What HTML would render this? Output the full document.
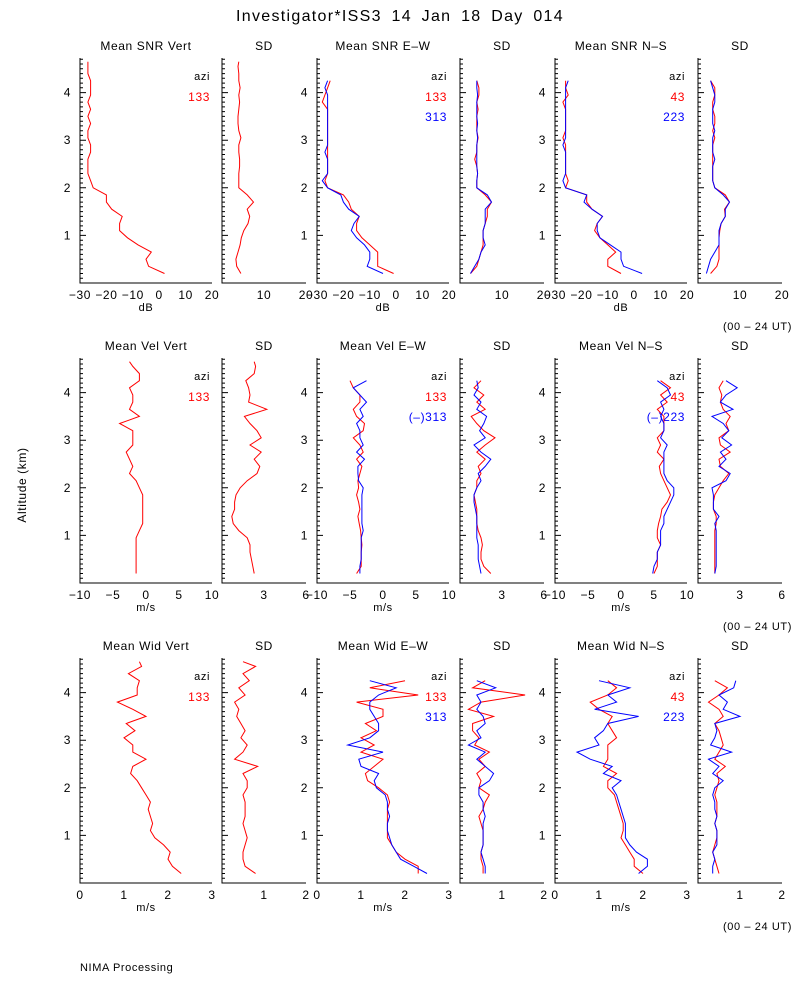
<!DOCTYPE html>
<html><head><meta charset="utf-8"><style>
body{margin:0;background:#fff}
svg{display:block;font-family:"Liberation Sans",sans-serif;font-size:12px;letter-spacing:0.6px}
</style></head><body>
<svg id="c" width="800" height="1000" viewBox="0 0 800 1000">
<rect width="800" height="1000" fill="#fff"/>
<text x="400" y="21" text-anchor="middle" font-size="16" style="letter-spacing:1.3px;word-spacing:4px">Investigator*ISS3   14 Jan 18 Day 014</text>
<text transform="translate(26,485) rotate(-90)" text-anchor="middle">Altitude (km)</text>
<text x="80" y="971" font-size="11">NIMA Processing</text>
</svg>
<script>
const hV=[0.2,0.35,0.5,0.65,0.8,0.95,1.1,1.25,1.4,1.55,1.7,1.85,2.0,2.15,2.3,2.45,2.6,2.75,2.9,3.05,3.2,3.35,3.5,3.65,3.8,3.95,4.1,4.25,4.4,4.55,4.65];
const hO=[0.2,0.35,0.5,0.65,0.8,0.95,1.1,1.25,1.4,1.55,1.7,1.85,2.0,2.15,2.3,2.45,2.6,2.75,2.9,3.05,3.2,3.35,3.5,3.65,3.8,3.95,4.1,4.25];
const snrV=[2,-4,-5,-3,-8,-12,-15,-15,-14,-18,-20,-20,-25,-26,-27,-27,-27,-26,-26,-27,-27,-26,-27,-26,-27,-26,-26,-26,-27,-27,-27];
const snrVsd=[4.5,3.5,3.3,3.8,4.3,4.6,5.2,6.2,6.6,6,7.5,6,4,4,4,4.2,4.2,4,4,4.5,4,3.8,3.8,4,4.2,4,4.3,4,4,3.8,4];
const snrEWr=[-1,-7,-7,-7,-10,-13,-15,-15,-14,-17,-18,-20,-26,-27,-26,-26,-26,-26,-26,-26,-26,-26,-26,-26,-28,-27,-26,-25];
const snrEWb=[-5,-11,-10,-10,-12,-15,-17,-16,-14,-18,-20,-21,-26,-28,-26,-26,-26,-27,-26,-26,-26,-26,-26,-26,-26,-26,-27,-26];
const snrEWsdr=[2.5,4,4.5,5,5.5,5.5,5.5,6,6.5,6.5,7.5,6,4,4,4.2,4,3.5,4,4,4.3,4,4,4,4.3,4,4.5,4.5,4];
const snrEWsdb=[2.5,3.5,4.5,5,6,5.5,5.5,6,6,6,7.5,6.5,4,4,4.2,4,4,4,4,4.2,4,4.2,4,4,4,4.2,4,4];
const snrNSr=[-5,-10,-10,-7,-10,-13,-15,-14,-12,-16,-18,-18,-26,-25,-26,-26,-26,-26,-26,-27,-26,-26,-26,-26,-27,-25,-26,-26];
const snrNSb=[3,-4,-5,-5,-9,-13,-14,-14,-12,-16,-19,-18,-26,-27,-26,-26,-26,-26,-27,-26,-26,-26,-26,-26,-26,-26,-26,-25];
const snrNSsdr=[3,4.5,5,5,5,5,5.2,5.5,6.5,6.3,7.5,6.5,4,3.5,3.5,3.5,3.5,3.5,3.5,4,3.5,4,4,3.5,3.5,4,4,3];
const snrNSsdb=[2,2.5,3,4,5,5,5,5.5,6.5,6.5,7.5,6,4,3.5,3.5,3.5,4,3.5,3.5,3.5,4,3.5,3.5,3.5,4,4,3.5,3];
const velV=[-1.5,-1.5,-1.5,-1.5,-1.5,-1.5,-1,-0.5,-0.5,-0.5,-0.5,-0.5,-1,-1.5,-2.5,-2,-2.5,-3,-2,-2,-2,-4,-1,-2.5,-2,-2,-2.5,-1,-1,-2,-2.5];
const velVsd=[2.3,2.2,2.1,2,2,1.8,1.2,0.8,0.7,0.9,0.9,1,1.3,1.8,2.5,2.7,2.3,2.8,2,2.8,2.5,2,1.6,3.2,1.9,2,1.9,1.7,2.3,2.4,2.3];
const velEWr=[-4,-3.3,-3.3,-3.3,-3.2,-3.3,-3.4,-3.6,-3.8,-3.5,-3.7,-4,-3.7,-3.8,-3.5,-3.2,-4,-3,-3.5,-4.5,-3,-2.8,-4,-4.5,-3.5,-3.5,-4.5,-5];
const velEWb=[-3.5,-3.5,-3.3,-3.3,-3.3,-3.3,-3,-3.2,-3.2,-3.2,-3.2,-3.2,-3,-3.7,-3.8,-3.8,-2.8,-4,-3,-3.5,-3.5,-4,-3,-3.5,-2.5,-3.5,-4.5,-2.5];
const velEWsdr=[2.2,1.7,1.5,1.5,1.6,1.5,1.3,1.2,1.2,1.2,1.1,1.0,1.2,1.2,1.5,1.3,1.8,1.2,1.8,2.5,1.7,1.2,0.8,1.8,1.2,1.7,1.0,1.5];
const velEWsdb=[1.5,1.4,1.3,1.3,1.3,1.2,1.2,1.2,1.2,1.1,1.0,1.0,1.2,1.5,1.3,1.8,2.2,1.5,1.0,1.8,1.4,1.7,1.9,1.2,1.5,1.0,1.3,1.2];
const velNSr=[5,5.5,5.5,5.5,6,5.5,5.5,5.7,6,6.2,7,7.5,7,6.5,6,5.8,6.5,5.5,6,5.5,6.5,6.5,6.5,5.5,7,6,7.5,6];
const velNSb=[4.8,5,5.5,5.5,6,6,6,6.5,6.5,7,7.5,8,8,7,6.5,6.5,6.5,6.5,7,6,6.5,6.5,6,6.5,6,7.5,7,5.5];
const velNSsdr=[1.2,1.2,1.2,1.2,1.2,1.2,1.2,1.3,1.3,1.1,1.1,1.2,1.5,1.8,2.2,1.6,1.5,2.3,1.6,1.5,2.2,2.0,2.3,1.8,1.6,1.7,1.5,1.8];
const velNSsdb=[1.2,1.3,1.3,1.3,1.3,1.3,1.3,1.2,1.5,1.1,1.1,1.1,1.0,2.0,2.3,1.5,2.0,1.6,2.4,1.7,2.2,1.8,1.0,2.5,1.6,2.0,2.8,2.0];
const widV=[2.3,2.1,2.0,2.05,1.9,1.7,1.6,1.65,1.6,1.55,1.6,1.5,1.4,1.3,1.15,1.2,1.5,1.2,1.2,1.0,1.25,1.05,1.5,1.2,0.85,1.3,1.3,1.35,1.1,1.4,1.35];
const widVsd=[0.8,0.55,0.5,0.5,0.55,0.6,0.55,0.5,0.55,0.55,0.55,0.5,0.6,0.6,0.5,0.85,0.3,0.5,0.6,0.45,0.55,0.45,0.35,0.4,0.3,0.55,0.4,0.65,0.5,0.8,0.5];
const widEWr=[2.3,2.3,2.0,1.8,1.7,1.6,1.6,1.6,1.6,1.6,1.65,1.6,1.4,1.15,1.1,1.3,1.5,1.0,1.3,1.0,1.35,1.1,1.5,1.5,0.9,2.3,1.2,2.0];
const widEWb=[2.5,2.2,1.9,1.8,1.7,1.65,1.6,1.6,1.65,1.6,1.6,1.55,1.35,1.3,1.4,1.0,0.95,1.5,0.7,1.2,1.4,1.4,1.3,1.2,1.2,1.4,1.8,1.2];
const widEWsdr=[0.55,0.55,0.5,0.5,0.55,0.55,0.55,0.5,0.45,0.55,0.6,0.7,0.45,0.5,0.4,0.6,0.45,0.7,0.35,0.45,0.3,0.3,0.8,0.2,0.5,1.55,0.3,0.6];
const widEWsdb=[0.6,0.6,0.55,0.5,0.55,0.55,0.55,0.55,0.6,0.55,0.55,0.45,0.45,0.7,0.8,0.6,0.4,0.6,0.2,0.5,0.4,0.6,0.55,0.4,0.5,0.4,0.85,0.4];
const widNSr=[2,1.8,1.8,1.7,1.6,1.5,1.55,1.55,1.5,1.45,1.4,1.35,1.2,1.2,1.4,1.1,1.2,1.2,1.2,1.4,1.3,1.2,1.3,1.0,0.8,1.2,1.4,1.2];
const widNSb=[1.9,2.1,2.1,1.85,1.7,1.6,1.6,1.6,1.55,1.5,1.45,1.4,1.3,1.5,1.1,1.3,0.8,0.5,1.0,0.9,1.1,1.2,1.9,0.9,1.4,1.2,1.7,1.0];
const widNSsdr=[0.5,0.45,0.4,0.35,0.4,0.45,0.45,0.4,0.45,0.45,0.45,0.4,0.45,0.5,0.45,0.65,0.4,0.5,0.6,0.55,0.5,0.4,0.6,0.5,0.25,0.5,0.7,0.4];
const widNSsdb=[0.35,0.35,0.4,0.35,0.45,0.45,0.45,0.4,0.45,0.4,0.4,0.35,0.4,0.6,0.35,0.5,0.25,0.8,0.3,0.4,0.45,0.4,1.0,0.6,0.7,0.5,0.85,0.9];
const titles=[["Mean SNR Vert","SD","Mean SNR E\u2013W","SD","Mean SNR N\u2013S","SD"],["Mean Vel Vert","SD","Mean Vel E\u2013W","SD","Mean Vel N\u2013S","SD"],["Mean Wid Vert","SD","Mean Wid E\u2013W","SD","Mean Wid N\u2013S","SD"]];
const meanTicks=[[-30,-20,-10,0,10,20],[-10,-5,0,5,10],[0,1,2,3]];
const sdTicks=[[10,20],[3,6],[1,2]];
const meanRange=[[-30,20],[-10,10],[0,3]];
const sdRange=[[0,20],[0,6],[0,2]];
const units=["dB","m/s","m/s"];
const yTicks=[1,2,3,4];
const series=[
 [[[snrV,hV,"red"]],[[snrVsd,hV,"red"]],[[snrEWr,hO,"red"],[snrEWb,hO,"blue"]],[[snrEWsdr,hO,"red"],[snrEWsdb,hO,"blue"]],[[snrNSr,hO,"red"],[snrNSb,hO,"blue"]],[[snrNSsdr,hO,"red"],[snrNSsdb,hO,"blue"]]],
 [[[velV,hV,"red"]],[[velVsd,hV,"red"]],[[velEWr,hO,"red"],[velEWb,hO,"blue"]],[[velEWsdr,hO,"red"],[velEWsdb,hO,"blue"]],[[velNSr,hO,"red"],[velNSb,hO,"blue"]],[[velNSsdr,hO,"red"],[velNSsdb,hO,"blue"]]],
 [[[widV,hV,"red"]],[[widVsd,hV,"red"]],[[widEWr,hO,"red"],[widEWb,hO,"blue"]],[[widEWsdr,hO,"red"],[widEWsdb,hO,"blue"]],[[widNSr,hO,"red"],[widNSb,hO,"blue"]],[[widNSsdr,hO,"red"],[widNSsdb,hO,"blue"]]]];
const azi=[[["133"]],[["133"],["313"]],[["43"],["223"]]];
const aziVel=[["133"],["133","(\u2013)313"],["43","(\u2013)223"]];

const svg=document.getElementById('c');
const NS="http://www.w3.org/2000/svg";
function mk(tag,at,parent){const e=document.createElementNS(NS,tag);for(const k in at)e.setAttribute(k,at[k]);(parent||svg).appendChild(e);return e;}
const PX=[80,222,317,460,555,698], PW=[132,84,132,84,132,84];
const BOT=[283,583,883], KM=47.6;
for(let r=0;r<3;r++){
 const b=BOT[r], top=b-225;
 const yS=h=>b-h*KM;
 for(let p=0;p<6;p++){
  const g=mk('g',{});
  
  
  const x0=PX[p], w=PW[p], isMean=p%2===0;
  const rng=isMean?meanRange[r]:sdRange[r];
  const xS=v=>x0+(v-rng[0])/(rng[1]-rng[0])*w;
  let d=`M${x0},${top}V${b}H${x0+w}`;
  for(let k=1;k<=47;k++){const y=yS(k*0.1);d+=`M${x0},${y.toFixed(1)}h${k%10===0?6:3}`;}
  const ax=mk('path',{d:d,stroke:'#000','stroke-width':1,fill:'none'},g);
  
  
  const t=mk('text',{x:x0+w/2,y:top-8,'text-anchor':'middle'},g);t.textContent=titles[r][p];
  
  
  if(isMean){for(const v of yTicks){const tt=mk('text',{x:x0-9,y:yS(v)+4,'text-anchor':'end'},g);tt.textContent=v;
   
   }
   const u=mk('text',{x:x0+w/2,y:b+28,'text-anchor':'middle','font-size':11},g);u.textContent=units[r];
   
   
   const az=mk('text',{x:x0+w-2,y:top+22,'text-anchor':'end','font-size':11},g);az.textContent='azi';
   
   
   const labs=r===1?aziVel[p/2]:azi[p/2].map(a=>a[0]);
   labs.forEach((s,i)=>{const a=mk('text',{x:x0+w-2,y:top+43+i*20,'text-anchor':'end',fill:i?'blue':'red'},g);a.textContent=s;
    
    });
  }
  const ticks=isMean?meanTicks[r]:sdTicks[r];
  for(const v of ticks){const tt=mk('text',{x:xS(v),y:b+16,'text-anchor':'middle'},g);tt.textContent=(v<0?'\u2212':'')+Math.abs(v);
   
   }
  for(const s of series[r][p]){
   const pts=s[0].map((v,i)=>xS(v).toFixed(1)+','+yS(s[1][i]).toFixed(1)).join(' ');
   const pl=mk('polyline',{points:pts,fill:'none',stroke:s[2],'stroke-width':1},g);
   
   
  }
 }
 const ut=mk('text',{x:792,y:b+47,'text-anchor':'end','font-size':11});ut.textContent='(00 \u2013 24 UT)';
 
 
}
</script>
</body></html>
